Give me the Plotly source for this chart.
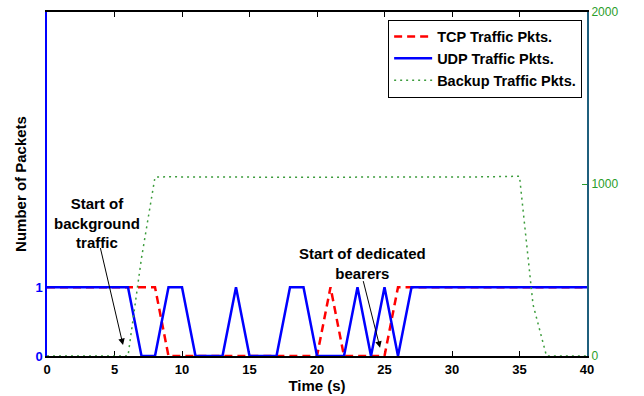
import plotly.graph_objects as go

time_s = list(range(0, 41))
tcp_pkts = [1, 1, 1, 1, 1, 1, 1, 1, 1, 0,
            0, 0, 0, 0, 0, 0, 0, 0, 0, 0,
            0, 1, 0, 0, 0, 0, 1, 1, 1, 1,
            1, 1, 1, 1, 1, 1, 1, 1, 1, 1, 1]
udp_pkts = [1, 1, 1, 1, 1, 1, 1, 0, 0, 1,
            1, 0, 0, 0, 1, 0, 0, 0, 1, 1,
            0, 0, 0, 1, 0, 1, 0, 1, 1, 1,
            1, 1, 1, 1, 1, 1, 1, 1, 1, 1, 1]
backup_pkts = [0, 0, 0, 0, 0, 0, 0, 570, 1040, 1042,
               1040, 1038, 1040, 1041, 1042, 1040, 1039, 1040, 1042, 1040,
               1040, 1039, 1041, 1040, 1040, 1042, 1040, 1040, 1041, 1043,
               1040, 1040, 1041, 1040, 1042, 1045, 300, 0, 0, 0, 0]

x_ticks = [0, 5, 10, 15, 20, 25, 30, 35, 40]
left_ticks = [0, 1]
right_ticks = [0, 1000, 2000]

BLUE = "#0000ff"
RED = "#ff0000"
GREEN_LINE = "#3c9c3c"
GREEN_TXT = "#2a9d2a"
FONT = "Liberation Sans"

fig = go.Figure()
fig.add_trace(go.Scatter(x=time_s, y=tcp_pkts, mode="lines", name="TCP Traffic Pkts.",
                         line=dict(color=RED, width=2.5, dash="8px,5px")))
fig.add_trace(go.Scatter(x=time_s, y=udp_pkts, mode="lines", name="UDP Traffic Pkts.",
                         line=dict(color=BLUE, width=2.5)))
fig.add_trace(go.Scatter(x=time_s, y=backup_pkts, mode="lines", name="Backup Traffic Pkts.",
                         yaxis="y2", line=dict(color=GREEN_LINE, width=1.5, dash="2px,4px")))

fig.update_layout(
    width=644, height=396,
    margin=dict(l=47, r=57, t=12, b=40),
    paper_bgcolor="white", plot_bgcolor="white",
    font=dict(family=FONT, size=12, color="black"),
    showlegend=True,
    legend=dict(x=0.991, y=0.978, xanchor="right", yanchor="top",
                bgcolor="white", bordercolor="black", borderwidth=1,
                font=dict(family=FONT, size=14.5, color="black", weight="bold"),
                tracegroupgap=0, itemwidth=38),
    xaxis=dict(range=[0, 40], tickvals=x_ticks, ticks="inside", ticklen=5,
               tickcolor="black", showline=True, linecolor="black", linewidth=2,
               mirror="ticks", showgrid=False, zeroline=False, layer="below traces",
               automargin=False,
               tickfont=dict(family=FONT, size=13, color="black", weight="bold"),
               title=dict(text="Time (s)", standoff=2,
                          font=dict(family=FONT, size=15, color="black", weight="bold"))),
    yaxis=dict(range=[0, 5], tickvals=left_ticks, ticks="inside", ticklen=5,
               tickcolor=BLUE, showline=True, linecolor=BLUE, linewidth=1.5,
               showgrid=False, zeroline=False, layer="below traces",
               automargin=False,
               tickfont=dict(family=FONT, size=13, color=BLUE, weight="bold"),
               title=dict(text="Number of Packets", standoff=5,
                          font=dict(family=FONT, size=15, color="black", weight="bold"))),
    yaxis2=dict(range=[0, 2000], tickvals=right_ticks, ticks="inside", ticklen=5,
                tickcolor=GREEN_TXT, overlaying="y", side="right", anchor="x",
                showline=True, linecolor="#1f5f7d", linewidth=2,
                showgrid=False, zeroline=False, layer="below traces",
                automargin=False,
                tickfont=dict(family=FONT, size=12, color=GREEN_TXT)),
)

ann_font = dict(family=FONT, size=15, color="black", weight="bold")
fig.add_annotation(x=3.7, y=1.93, xref="x", yref="y", text="Start of<br>background<br>traffic",
                   showarrow=False, font=ann_font, align="center")
fig.add_annotation(x=5.63, y=0.16, xref="x", yref="y", ax=3.93, ay=1.59,
                   axref="x", ayref="y", text="", showarrow=True,
                   arrowhead=2, arrowsize=1.3, arrowwidth=1, arrowcolor="black")
fig.add_annotation(x=23.4, y=1.35, xref="x", yref="y", text="Start of dedicated<br>bearers",
                   showarrow=False, font=ann_font, align="center")
fig.add_annotation(x=24.67, y=0.12, xref="x", yref="y", ax=23.4, ay=1.11,
                   axref="x", ayref="y", text="", showarrow=True,
                   arrowhead=2, arrowsize=1.3, arrowwidth=1, arrowcolor="black")

fig.write_html("out.html")
